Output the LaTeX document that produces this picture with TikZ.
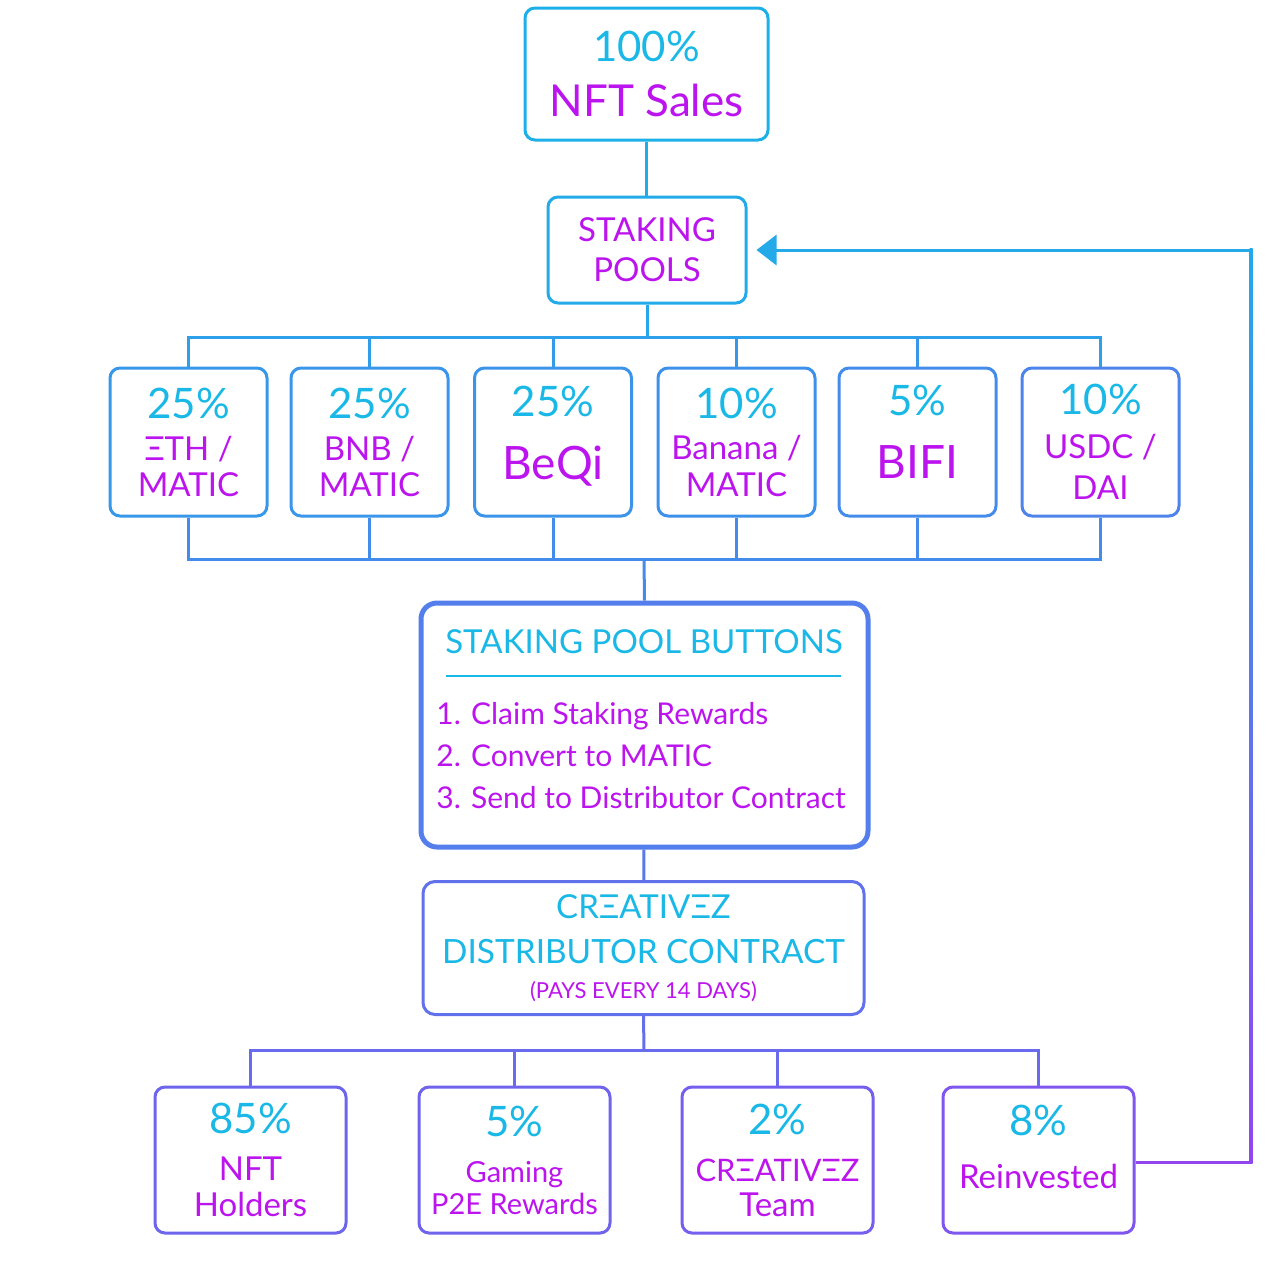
\documentclass[tikz,border=0pt]{standalone}
\usepackage{fontspec}
\setmainfont{Lato}
\usepackage{xcolor}
\usetikzlibrary{arrows.meta,calc}

\definecolor{pctcyan}{RGB}{26,184,230}
\definecolor{labelmag}{RGB}{188,20,238}
\definecolor{rimstart}{RGB}{26,178,232}
\definecolor{rimend}{RGB}{156,60,240}

\newcommand{\pct}[1]{{\color{pctcyan}\fontsize{21}{18}\selectfont #1}}
\newcommand{\coin}[1]{{\fontsize{23}{18}\selectfont #1}}
\newcommand{\sink}[1]{\rule[-#1]{0pt}{1pt}}

\tikzset{
  box/.style={draw=rimend!#1!rimstart, line width=1.5pt, rounded corners=5pt,
    fill=white, align=center, inner sep=0pt, text=labelmag,
    font=\fontsize{16.5}{18}\selectfont},
  rowbox/.style={box=#1, minimum width=78.5pt, minimum height=74pt},
  outbox/.style={box=#1, minimum width=95.5pt, minimum height=73pt},
  wire/.style={draw=rimend!#1!rimstart, line width=1.5pt},
}

\begin{document}
\begin{tikzpicture}[x=0.5pt,y=-0.5pt]
    \fill[white] (0,0) rectangle (1280,1260);
    \useasboundingbox (0,0) rectangle (1280,1260);

    % bus lines
    \coordinate (topbus) at (644,337);
    \coordinate (lowbus) at (644,559);
    \coordinate (outbus) at (644,1050);

    \node [box=2, minimum width=121.5pt, minimum height=66pt, font=\fontsize{22}{27.5}\selectfont] (sales) at (646.5,74)
      {\pct{100\%}\\NFT Sales};
    \node [box=6, minimum width=99pt, minimum height=53pt, font=\fontsize{16.5}{20}\selectfont] (pools) at (647,250)
      {STAKING\\POOLS};

    \node [rowbox=22] (eth) at (188.5,442) {\pct{25\%}\\[3pt]ΞTH /\\MATIC};
    \node [rowbox=24] (bnb) at (369.5,442) {\pct{25\%}\\[3pt]BNB /\\MATIC};
    \node [rowbox=26] (beqi) at (553,442) {\pct{25\%}\\[13.5pt]\coin{BeQi\sink{9pt}}};
    \node [rowbox=28] (banana) at (736.5,442) {\pct{10\%}\\[2.5pt]Banana /\\[0.5pt]MATIC};
    \node [rowbox=32] (bifi) at (917.5,442) {\pct{5\%}\\[13.5pt]\coin{BIFI\sink{10pt}}};
    \node [rowbox=40] (usdc) at (1100.5,442) {\pct{10\%}\\[4pt]USDC /\\[2.5pt]DAI};

    \node [box=44, line width=2.5pt, rounded corners=8pt, minimum width=223.5pt, minimum height=122pt] (buttons) at (644.5,725) {};
    \node [text=pctcyan, font=\fontsize{16.5}{18}\selectfont] (btntitle) at (644,642) {STAKING POOL BUTTONS};
    \draw [pctcyan, line width=1pt] (446,676) -- (841,676);
    \node [anchor=west, align=left, inner sep=0pt, text=labelmag, font=\fontsize{15}{21}\selectfont] (btnsteps) at (436,756)
      {1. Claim Staking Rewards\\2. Convert to MATIC\\3. Send to Distributor Contract};

    \node [box=55, rounded corners=6pt, minimum width=220.5pt, minimum height=66.5pt, text=pctcyan] (dist) at (643.5,948)
      {CRΞATIVΞZ\\[4.5pt]{\fontsize{16.7}{18}\selectfont DISTRIBUTOR CONTRACT}\\[-0.5pt]{\color{labelmag}\fontsize{11}{18}\selectfont (PAYS EVERY 14 DAYS)}};

    \node [outbox=64] (holders) at (250.5,1160) {\pct{85\%}\\[5.5pt]NFT\\Holders};
    \node [outbox=66, font=\fontsize{14.5}{16}\selectfont] (gaming) at (514.5,1160) {\pct{5\%}\\[7pt]Gaming\\P2E Rewards};
    \node [outbox=70] (team) at (777.5,1160) {\pct{2\%}\\[5.5pt]{\fontsize{15.5}{18}\selectfont CRΞATIVΞZ}\\[-0.5pt]Team};
    \node [outbox=78] (reinv) at (1038.5,1160) {\pct{8\%}\\[8.5pt]Reinvested\sink{13pt}};

    % connectors
    \draw [wire=4] (sales.south) -- (sales.south |- pools.north);
    \draw [wire=10] (pools) -- (pools |- topbus);
    \draw [wire=14] (eth.north) -- (eth.north |- topbus) -- (usdc.north |- topbus) -- (usdc.north);
    \foreach \b/\k in {bnb/18, beqi/20, banana/22, bifi/24}
      \draw [wire=\k] (\b.north) -- (\b.north |- topbus);
    \draw [wire=32] (eth.south) -- (eth.south |- lowbus) -- (usdc.south |- lowbus) -- (usdc.south);
    \foreach \b/\k in {bnb/32, beqi/32, banana/32, bifi/34}
      \draw [wire=\k] (\b.south) -- (\b.south |- lowbus);
    \draw [wire=34] (lowbus) -- (buttons.north);
    \draw [wire=48] (buttons) -- (dist);
    \draw [wire=58] (dist.south) -- (outbus);
    \draw [wire=60] (holders.north) -- (holders.north |- outbus) -- (reinv.north |- outbus) -- (reinv.north);
    \foreach \b/\k in {gaming/60, team/62}
      \draw [wire=\k] (\b.north) -- (\b.north |- outbus);

    % reinvest loop
    \coordinate (loopdown) at (1251,1162);
    \coordinate (loopup) at (1251,250);
    \draw [wire=92] (reinv.east |- loopdown) -- (loopdown);
    \shade [top color=rimend!8!rimstart, bottom color=rimend!92!rimstart]
      ($(loopup)+(-1.5,-1.5)$) rectangle ($(loopdown)+(1.5,1.5)$);
    \draw [wire=8, -{Triangle[length=10pt,width=15pt]}, shorten >=4.5pt] (loopup) -- (pools.east);
\end{tikzpicture}
\end{document}
